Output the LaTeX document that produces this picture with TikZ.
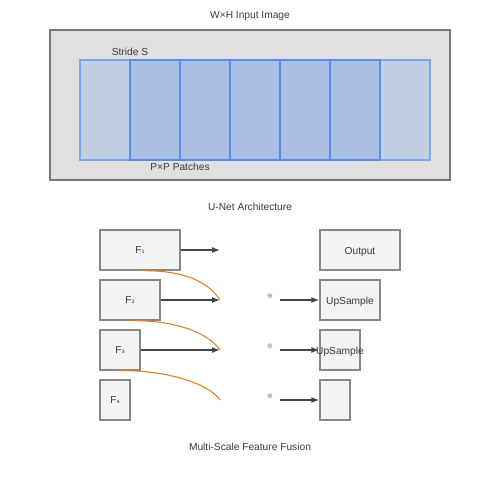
\documentclass[tikz,border=0pt]{standalone}
\usepackage{fontspec}
\setmainfont{Liberation Sans}
\newfontfamily\dejavu{DejaVu Sans}
\usetikzlibrary{arrows.meta}
\definecolor{txt}{HTML}{3A3A3A}
\definecolor{bgimg}{HTML}{E0E0E0}
\definecolor{imgedge}{HTML}{777777}
\definecolor{plight}{HTML}{C2CFE2}
\definecolor{pdark}{HTML}{AABDE3}
\definecolor{plightedge}{HTML}{7FA6EA}
\definecolor{pdarkedge}{HTML}{5A8DE6}
\definecolor{boxfill}{HTML}{F4F4F4}
\definecolor{boxedge}{HTML}{888888}
\definecolor{arr}{HTML}{444444}
\definecolor{orange}{HTML}{E67E22}
\tikzset{
  lbl/.style={font=\fontsize{10.2}{12}\selectfont, text=txt, inner sep=0pt},
  fbox/.style={draw=boxedge, fill=boxfill, line width=1.3pt, inner sep=0pt},
  flow/.style={draw=arr, line width=1.4pt, -{Latex[length=8pt,width=6pt]}},
  fuse/.style={draw=orange, line width=1.1pt},
}
\begin{document}
\begin{tikzpicture}[x=1pt,y=-1pt]
\useasboundingbox (0,0) rectangle (500,500);
% top section
\node[lbl] (title1) at (250,16.5) {W×H Input Image};
\draw[fill=bgimg, draw=imgedge, line width=1.2pt] (50,30) rectangle (450,180);
\draw[fill=plight, draw=plightedge, line width=1.2pt] (80,60) rectangle (130,160);
\draw[fill=plight, draw=plightedge, line width=1.2pt] (380,60) rectangle (430,160);
\foreach \x in {130,180,230,280,330}{
  \draw[fill=pdark, draw=pdarkedge, line width=1.2pt] (\x,60) rectangle ++(50,100);
}
\node[lbl] (stride) at (130,51.5) {Stride S};
\node[lbl] (patches) at (180,166.5) {P×P Patches};
% U-Net
\node[lbl] (title2) at (250,206.5) {U-Net Architecture};
\node[fbox, minimum width=80pt, minimum height=40pt] (f1) at (140,250) {\fontsize{10.2}{12}\selectfont\color{txt}F{\dejavu\fontsize{8}{10}\selectfont ₁}};
\node[fbox, minimum width=60pt, minimum height=40pt] (f2) at (130,300) {\fontsize{10.2}{12}\selectfont\color{txt}F{\dejavu\fontsize{8}{10}\selectfont ₂}};
\node[fbox, minimum width=40pt, minimum height=40pt] (f3) at (120,350) {\fontsize{10.2}{12}\selectfont\color{txt}F{\dejavu\fontsize{8}{10}\selectfont ₃}};
\node[fbox, minimum width=30pt, minimum height=40pt] (f4) at (115,400) {\fontsize{10.2}{12}\selectfont\color{txt}F{\dejavu\fontsize{8}{10}\selectfont ₄}};
\coordinate (a1) at (220,250);
\coordinate (a2) at (220,300);
\coordinate (a3) at (220,350);
\coordinate (a4) at (220,400);
\draw[flow] (f1.east) -- (a1);
\draw[flow] (f2.east) -- (a2);
\draw[flow] (f3.east) -- (a3);
\draw[fuse] (f1.south) .. controls (190,270) and (210,285) .. (a2);
\draw[fuse] (f2.south) .. controls (180,320) and (210,335) .. (a3);
\draw[fuse] (f3.south) .. controls (170,370) and (210,385) .. (a4);
% right side
\node[fbox, minimum width=80pt, minimum height=40pt] (out) at (360,250) {};
\node[lbl] (outl) at (360,251.5) {Output};
\node[fbox, minimum width=60pt, minimum height=40pt] (up1) at (350,300) {};
\node[lbl] (up1l) at (350,301.5) {UpSample};
\node[fbox, minimum width=40pt, minimum height=40pt] (up2) at (340,350) {};
\node[fbox, minimum width=30pt, minimum height=40pt] (up3) at (335,400) {};
\node[lbl, font=\dejavu\fontsize{7}{8}\selectfont, text=boxedge] (p1) at (270,296) {⊕};
\node[lbl, font=\dejavu\fontsize{7}{8}\selectfont, text=boxedge] (p2) at (270,346) {⊕};
\node[lbl, font=\dejavu\fontsize{7}{8}\selectfont, text=boxedge] (p3) at (270,396) {⊕};
\coordinate (s1) at (280,300);
\coordinate (s2) at (280,350);
\coordinate (s3) at (280,400);
\draw[flow] (s1) -- (up1.west);
\draw[flow] (s2) -- (up2.west);
\draw[flow] (s3) -- (up3.west);
\node[lbl] (up2l) at (340,351.5) {UpSample};
\node[lbl] (title3) at (250,446.5) {Multi-Scale Feature Fusion};
\end{tikzpicture}
\end{document}
